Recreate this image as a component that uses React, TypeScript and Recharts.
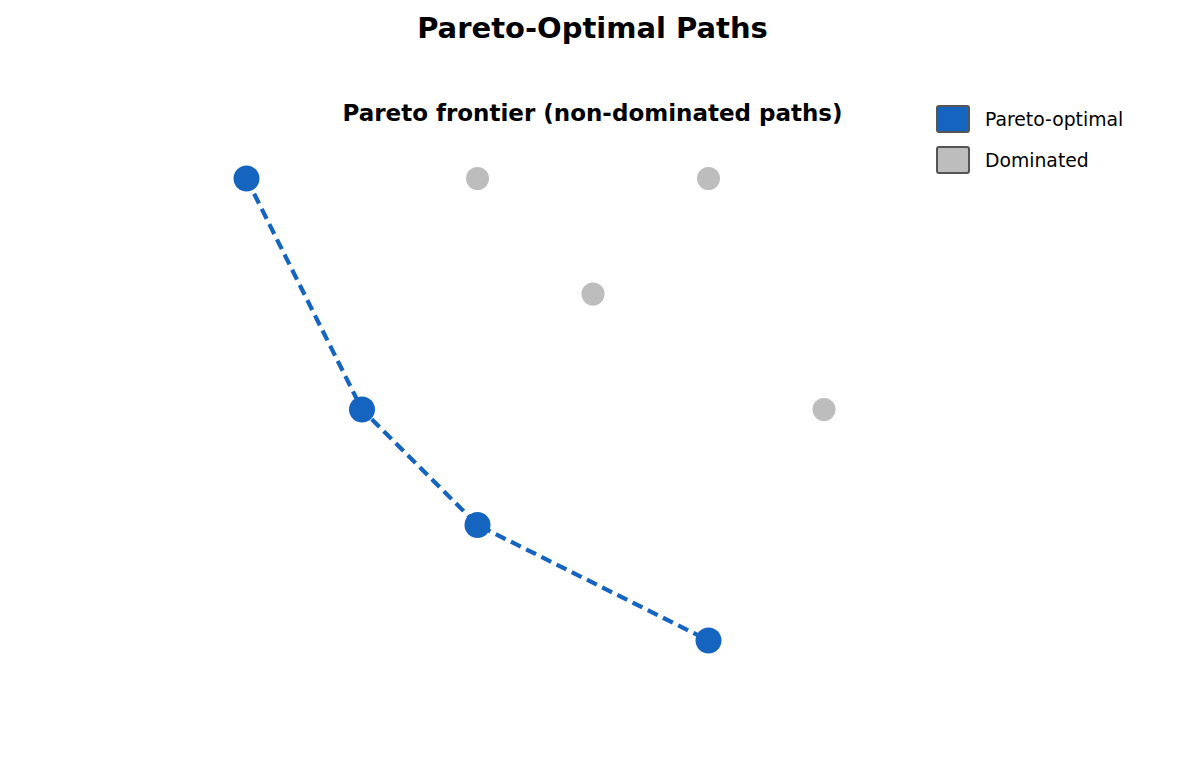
import { ScatterChart, Scatter, XAxis, YAxis } from "recharts";

// Pareto-optimal paths (x: objective 1, y: objective 2)
const paretoX = [1, 2, 3, 5];
const paretoY = [5, 3, 2, 1];

// Dominated paths
const dominatedX = [3, 5, 4, 6];
const dominatedY = [5, 5, 4, 3];

const BLUE = "#1565C0";
const GRAY = "#BDBDBD";
const FONT = "'DejaVu Sans', sans-serif";

const paretoData = paretoX.map((x, i) => ({ x, y: paretoY[i] }));
const dominatedData = dominatedX.map((x, i) => ({ x, y: dominatedY[i] }));

const legendItems = [
  { label: "Pareto-optimal", color: BLUE },
  { label: "Dominated", color: GRAY },
];

export default function App() {
  return (
    <div
      style={{
        position: "absolute",
        left: 0,
        top: 0,
        width: 1185,
        height: 770,
        background: "#fff",
        fontFamily: FONT,
      }}
    >
      <div
        style={{
          position: "absolute",
          left: 0,
          width: 1185,
          top: 10,
          textAlign: "center",
          fontSize: 29,
          fontWeight: "bold",
          lineHeight: "36px",
        }}
      >
        Pareto-Optimal Paths
      </div>
      <div
        style={{
          position: "absolute",
          left: 0,
          width: 1185,
          top: 98,
          textAlign: "center",
          fontSize: 23,
          fontWeight: "bold",
          lineHeight: "30px",
        }}
      >
        Pareto frontier (non-dominated paths)
      </div>

      <ScatterChart
        width={1185}
        height={770}
        margin={{ top: 63, right: 130, bottom: 14, left: 131 }}
      >
        <XAxis type="number" dataKey="x" domain={[0, 8]} hide />
        <YAxis type="number" dataKey="y" domain={[0, 6]} hide />
        <Scatter
          name="Dominated"
          data={dominatedData}
          isAnimationActive={false}
          shape={(p: any) => <circle cx={p.cx} cy={p.cy} r={11.5} fill={GRAY} />}
        />
        <Scatter
          name="Pareto-optimal"
          data={paretoData}
          isAnimationActive={false}
          line={{ stroke: BLUE, strokeWidth: 4.2, strokeDasharray: "11 6" }}
          shape={(p: any) => <circle cx={p.cx} cy={p.cy} r={13} fill={BLUE} />}
        />
      </ScatterChart>

      <div style={{ position: "absolute", left: 936, top: 105 }}>
        {legendItems.map((item) => (
          <div
            key={item.label}
            style={{ display: "flex", alignItems: "center", height: 28, marginBottom: 13 }}
          >
            <div
              style={{
                width: 30,
                height: 24,
                background: item.color,
                border: "2px solid #555",
                borderRadius: 3,
              }}
            />
            <span style={{ marginLeft: 15, fontSize: 18.8 }}>{item.label}</span>
          </div>
        ))}
      </div>
    </div>
  );
}
